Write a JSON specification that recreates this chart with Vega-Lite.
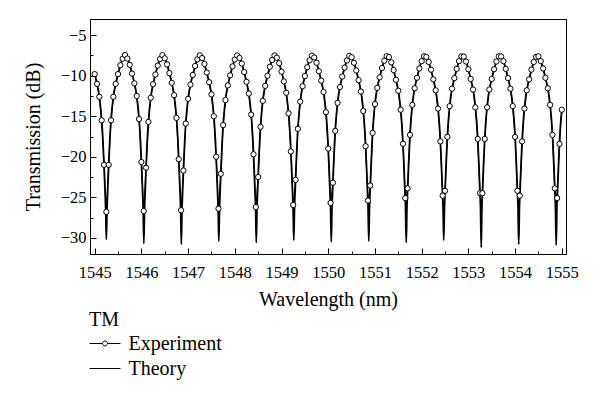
{
  "$schema": "https://vega.github.io/schema/vega-lite/v6.json",
  "width": 476,
  "height": 235,
  "autosize": {"type": "none"},
  "padding": {"left": 90, "top": 19, "right": 34, "bottom": 144},
  "background": "white",
  "datasets": {
    "th": [
      {"x":1545.000,"y":-9.8},{"x":1545.050,"y":-11.0},{"x":1545.100,"y":-12.6},{"x":1545.150,"y":-15.5},{"x":1545.175,"y":-17.8},{"x":1545.200,"y":-21.0},{"x":1545.220,"y":-24.0},{"x":1545.235,"y":-26.3},{"x":1545.250,"y":-30.2},{"x":1545.265,"y":-26.3},{"x":1545.280,"y":-24.0},{"x":1545.300,"y":-21.0},{"x":1545.325,"y":-17.8},{"x":1545.350,"y":-15.5},{"x":1545.400,"y":-12.6},{"x":1545.450,"y":-11.0},{"x":1545.500,"y":-9.8},{"x":1545.550,"y":-8.7},{"x":1545.600,"y":-7.9},{"x":1545.651,"y":-7.45},
      {"x":1545.703,"y":-7.9},{"x":1545.753,"y":-8.7},{"x":1545.803,"y":-9.8},{"x":1545.853,"y":-11.0},{"x":1545.903,"y":-12.6},{"x":1545.953,"y":-15.5},{"x":1545.978,"y":-17.8},{"x":1546.003,"y":-21.0},{"x":1546.023,"y":-24.0},{"x":1546.038,"y":-26.3},{"x":1546.053,"y":-30.7},{"x":1546.068,"y":-26.3},{"x":1546.083,"y":-24.0},{"x":1546.103,"y":-21.0},{"x":1546.128,"y":-17.8},{"x":1546.153,"y":-15.5},{"x":1546.203,"y":-12.6},{"x":1546.253,"y":-11.0},{"x":1546.303,"y":-9.8},{"x":1546.353,"y":-8.7},{"x":1546.403,"y":-7.9},{"x":1546.454,"y":-7.5},
      {"x":1546.505,"y":-7.9},{"x":1546.555,"y":-8.7},{"x":1546.605,"y":-9.8},{"x":1546.655,"y":-11.0},{"x":1546.705,"y":-12.6},{"x":1546.755,"y":-15.5},{"x":1546.780,"y":-17.8},{"x":1546.805,"y":-21.0},{"x":1546.825,"y":-24.0},{"x":1546.840,"y":-26.3},{"x":1546.855,"y":-30.8},{"x":1546.870,"y":-26.3},{"x":1546.885,"y":-24.0},{"x":1546.905,"y":-21.0},{"x":1546.930,"y":-17.8},{"x":1546.955,"y":-15.5},{"x":1547.005,"y":-12.6},{"x":1547.055,"y":-11.0},{"x":1547.105,"y":-9.8},{"x":1547.155,"y":-8.7},{"x":1547.205,"y":-7.9},{"x":1547.256,"y":-7.45},
      {"x":1547.308,"y":-7.9},{"x":1547.358,"y":-8.7},{"x":1547.408,"y":-9.8},{"x":1547.458,"y":-11.0},{"x":1547.508,"y":-12.6},{"x":1547.558,"y":-15.5},{"x":1547.583,"y":-17.8},{"x":1547.608,"y":-21.0},{"x":1547.628,"y":-24.0},{"x":1547.643,"y":-26.3},{"x":1547.658,"y":-30.4},{"x":1547.673,"y":-26.3},{"x":1547.688,"y":-24.0},{"x":1547.708,"y":-21.0},{"x":1547.733,"y":-17.8},{"x":1547.758,"y":-15.5},{"x":1547.808,"y":-12.6},{"x":1547.858,"y":-11.0},{"x":1547.908,"y":-9.8},{"x":1547.958,"y":-8.7},{"x":1548.008,"y":-7.9},{"x":1548.059,"y":-7.45},
      {"x":1548.110,"y":-7.9},{"x":1548.160,"y":-8.7},{"x":1548.210,"y":-9.8},{"x":1548.260,"y":-11.0},{"x":1548.310,"y":-12.6},{"x":1548.360,"y":-15.5},{"x":1548.385,"y":-17.8},{"x":1548.410,"y":-21.0},{"x":1548.430,"y":-24.0},{"x":1548.445,"y":-26.3},{"x":1548.460,"y":-30.6},{"x":1548.475,"y":-26.3},{"x":1548.490,"y":-24.0},{"x":1548.510,"y":-21.0},{"x":1548.535,"y":-17.8},{"x":1548.560,"y":-15.5},{"x":1548.610,"y":-12.6},{"x":1548.660,"y":-11.0},{"x":1548.710,"y":-9.8},{"x":1548.760,"y":-8.7},{"x":1548.810,"y":-7.9},{"x":1548.861,"y":-7.45},
      {"x":1548.913,"y":-7.9},{"x":1548.963,"y":-8.7},{"x":1549.013,"y":-9.8},{"x":1549.063,"y":-11.0},{"x":1549.113,"y":-12.6},{"x":1549.163,"y":-15.5},{"x":1549.188,"y":-17.8},{"x":1549.213,"y":-21.0},{"x":1549.233,"y":-24.0},{"x":1549.248,"y":-26.3},{"x":1549.263,"y":-30.3},{"x":1549.278,"y":-26.3},{"x":1549.293,"y":-24.0},{"x":1549.313,"y":-21.0},{"x":1549.338,"y":-17.8},{"x":1549.363,"y":-15.5},{"x":1549.413,"y":-12.6},{"x":1549.463,"y":-11.0},{"x":1549.513,"y":-9.8},{"x":1549.563,"y":-8.7},{"x":1549.613,"y":-7.9},{"x":1549.664,"y":-7.45},
      {"x":1549.715,"y":-7.9},{"x":1549.765,"y":-8.7},{"x":1549.815,"y":-9.8},{"x":1549.865,"y":-11.0},{"x":1549.915,"y":-12.6},{"x":1549.965,"y":-15.5},{"x":1549.990,"y":-17.8},{"x":1550.015,"y":-21.0},{"x":1550.035,"y":-24.0},{"x":1550.050,"y":-26.3},{"x":1550.065,"y":-30.5},{"x":1550.080,"y":-26.3},{"x":1550.095,"y":-24.0},{"x":1550.115,"y":-21.0},{"x":1550.140,"y":-17.8},{"x":1550.165,"y":-15.5},{"x":1550.215,"y":-12.6},{"x":1550.265,"y":-11.0},{"x":1550.315,"y":-9.8},{"x":1550.365,"y":-8.7},{"x":1550.415,"y":-7.9},{"x":1550.466,"y":-7.4},
      {"x":1550.518,"y":-7.9},{"x":1550.568,"y":-8.7},{"x":1550.618,"y":-9.8},{"x":1550.668,"y":-11.0},{"x":1550.718,"y":-12.6},{"x":1550.768,"y":-15.5},{"x":1550.793,"y":-17.8},{"x":1550.818,"y":-21.0},{"x":1550.838,"y":-24.0},{"x":1550.853,"y":-26.3},{"x":1550.868,"y":-30.4},{"x":1550.883,"y":-26.3},{"x":1550.898,"y":-24.0},{"x":1550.918,"y":-21.0},{"x":1550.943,"y":-17.8},{"x":1550.968,"y":-15.5},{"x":1551.018,"y":-12.6},{"x":1551.068,"y":-11.0},{"x":1551.118,"y":-9.8},{"x":1551.168,"y":-8.7},{"x":1551.218,"y":-7.9},{"x":1551.269,"y":-7.45},
      {"x":1551.320,"y":-7.9},{"x":1551.370,"y":-8.7},{"x":1551.420,"y":-9.8},{"x":1551.470,"y":-11.0},{"x":1551.520,"y":-12.6},{"x":1551.570,"y":-15.5},{"x":1551.595,"y":-17.8},{"x":1551.620,"y":-21.0},{"x":1551.640,"y":-24.0},{"x":1551.655,"y":-26.3},{"x":1551.670,"y":-30.6},{"x":1551.685,"y":-26.3},{"x":1551.700,"y":-24.0},{"x":1551.720,"y":-21.0},{"x":1551.745,"y":-17.8},{"x":1551.770,"y":-15.5},{"x":1551.820,"y":-12.6},{"x":1551.870,"y":-11.0},{"x":1551.920,"y":-9.8},{"x":1551.970,"y":-8.7},{"x":1552.020,"y":-7.9},{"x":1552.071,"y":-7.45},
      {"x":1552.123,"y":-7.9},{"x":1552.173,"y":-8.7},{"x":1552.223,"y":-9.8},{"x":1552.273,"y":-11.0},{"x":1552.323,"y":-12.6},{"x":1552.373,"y":-15.5},{"x":1552.398,"y":-17.8},{"x":1552.423,"y":-21.0},{"x":1552.443,"y":-24.0},{"x":1552.458,"y":-26.3},{"x":1552.473,"y":-30.3},{"x":1552.488,"y":-26.3},{"x":1552.503,"y":-24.0},{"x":1552.523,"y":-21.0},{"x":1552.548,"y":-17.8},{"x":1552.573,"y":-15.5},{"x":1552.623,"y":-12.6},{"x":1552.673,"y":-11.0},{"x":1552.723,"y":-9.8},{"x":1552.773,"y":-8.7},{"x":1552.823,"y":-7.9},{"x":1552.874,"y":-7.45},
      {"x":1552.925,"y":-7.9},{"x":1552.975,"y":-8.7},{"x":1553.025,"y":-9.8},{"x":1553.075,"y":-11.0},{"x":1553.125,"y":-12.6},{"x":1553.175,"y":-15.5},{"x":1553.200,"y":-17.8},{"x":1553.225,"y":-21.0},{"x":1553.245,"y":-24.0},{"x":1553.260,"y":-26.3},{"x":1553.275,"y":-31.2},{"x":1553.290,"y":-26.3},{"x":1553.305,"y":-24.0},{"x":1553.325,"y":-21.0},{"x":1553.350,"y":-17.8},{"x":1553.375,"y":-15.5},{"x":1553.425,"y":-12.6},{"x":1553.475,"y":-11.0},{"x":1553.525,"y":-9.8},{"x":1553.575,"y":-8.7},{"x":1553.625,"y":-7.9},{"x":1553.676,"y":-7.45},
      {"x":1553.728,"y":-7.9},{"x":1553.778,"y":-8.7},{"x":1553.828,"y":-9.8},{"x":1553.878,"y":-11.0},{"x":1553.928,"y":-12.6},{"x":1553.978,"y":-15.5},{"x":1554.003,"y":-17.8},{"x":1554.028,"y":-21.0},{"x":1554.048,"y":-24.0},{"x":1554.063,"y":-26.3},{"x":1554.078,"y":-30.8},{"x":1554.093,"y":-26.3},{"x":1554.108,"y":-24.0},{"x":1554.128,"y":-21.0},{"x":1554.153,"y":-17.8},{"x":1554.178,"y":-15.5},{"x":1554.228,"y":-12.6},{"x":1554.278,"y":-11.0},{"x":1554.328,"y":-9.8},{"x":1554.378,"y":-8.7},{"x":1554.428,"y":-7.9},{"x":1554.479,"y":-7.45},
      {"x":1554.530,"y":-7.9},{"x":1554.580,"y":-8.7},{"x":1554.630,"y":-9.8},{"x":1554.680,"y":-11.0},{"x":1554.730,"y":-12.6},{"x":1554.780,"y":-15.5},{"x":1554.805,"y":-17.8},{"x":1554.830,"y":-21.0},{"x":1554.850,"y":-24.0},{"x":1554.865,"y":-26.3},{"x":1554.880,"y":-30.9},{"x":1554.895,"y":-26.3},{"x":1554.910,"y":-24.0},{"x":1554.930,"y":-21.0},{"x":1554.955,"y":-17.8},{"x":1554.980,"y":-15.5},{"x":1555.000,"y":-14.3}
    ],
    "ex": [
      {"x":1545.00,"y":-9.8},{"x":1545.05,"y":-11.0},{"x":1545.10,"y":-12.6},{"x":1545.15,"y":-15.5},{"x":1545.20,"y":-21.0},{"x":1545.25,"y":-26.8},{"x":1545.30,"y":-21.0},{"x":1545.35,"y":-15.5},{"x":1545.40,"y":-12.6},{"x":1545.45,"y":-11.0},{"x":1545.50,"y":-9.8},{"x":1545.55,"y":-8.7},{"x":1545.60,"y":-7.9},{"x":1545.65,"y":-7.45},
      {"x":1545.70,"y":-7.88},{"x":1545.75,"y":-8.65},{"x":1545.80,"y":-9.74},{"x":1545.85,"y":-10.94},{"x":1545.90,"y":-12.5},{"x":1545.95,"y":-15.35},{"x":1546.00,"y":-20.65},{"x":1546.05,"y":-26.7},{"x":1546.10,"y":-21.35},{"x":1546.15,"y":-15.7},{"x":1546.20,"y":-12.72},{"x":1546.25,"y":-11.05},{"x":1546.30,"y":-9.85},{"x":1546.35,"y":-8.75},{"x":1546.40,"y":-7.94},{"x":1546.45,"y":-7.46},
      {"x":1546.50,"y":-7.85},{"x":1546.55,"y":-8.6},{"x":1546.60,"y":-9.68},{"x":1546.65,"y":-10.88},{"x":1546.70,"y":-12.4},{"x":1546.75,"y":-15.2},{"x":1546.80,"y":-20.3},{"x":1546.85,"y":-26.6},{"x":1546.90,"y":-21.7},{"x":1546.95,"y":-15.9},{"x":1547.00,"y":-12.85},{"x":1547.05,"y":-11.1},{"x":1547.10,"y":-9.9},{"x":1547.15,"y":-8.8},{"x":1547.20,"y":-7.98},{"x":1547.25,"y":-7.48},
      {"x":1547.30,"y":-7.82},{"x":1547.35,"y":-8.55},{"x":1547.40,"y":-9.6},{"x":1547.45,"y":-10.8},{"x":1547.50,"y":-12.3},{"x":1547.55,"y":-15.0},{"x":1547.60,"y":-20.0},{"x":1547.65,"y":-26.4},{"x":1547.70,"y":-22.1},{"x":1547.75,"y":-16.1},{"x":1547.80,"y":-13.0},{"x":1547.85,"y":-11.2},{"x":1547.90,"y":-9.95},{"x":1547.95,"y":-8.85},{"x":1548.00,"y":-8.0},{"x":1548.05,"y":-7.5},
      {"x":1548.10,"y":-7.8},{"x":1548.15,"y":-8.5},{"x":1548.20,"y":-9.55},{"x":1548.25,"y":-10.75},{"x":1548.30,"y":-12.2},{"x":1548.35,"y":-14.8},{"x":1548.40,"y":-19.7},{"x":1548.45,"y":-26.2},{"x":1548.50,"y":-22.5},{"x":1548.55,"y":-16.3},{"x":1548.60,"y":-13.1},{"x":1548.65,"y":-11.25},{"x":1548.70,"y":-10.0},{"x":1548.75,"y":-8.9},{"x":1548.80,"y":-8.05},{"x":1548.85,"y":-7.5},
      {"x":1548.90,"y":-7.78},{"x":1548.95,"y":-8.45},{"x":1549.00,"y":-9.5},{"x":1549.05,"y":-10.7},{"x":1549.10,"y":-12.1},{"x":1549.15,"y":-14.65},{"x":1549.20,"y":-19.35},{"x":1549.25,"y":-25.95},{"x":1549.30,"y":-22.85},{"x":1549.35,"y":-16.55},{"x":1549.40,"y":-13.2},{"x":1549.45,"y":-11.3},{"x":1549.50,"y":-10.05},{"x":1549.55,"y":-8.95},{"x":1549.60,"y":-8.1},{"x":1549.65,"y":-7.52},
      {"x":1549.70,"y":-7.75},{"x":1549.75,"y":-8.4},{"x":1549.80,"y":-9.45},{"x":1549.85,"y":-10.6},{"x":1549.90,"y":-12.0},{"x":1549.95,"y":-14.5},{"x":1550.00,"y":-19.0},{"x":1550.05,"y":-25.7},{"x":1550.10,"y":-23.2},{"x":1550.15,"y":-16.8},{"x":1550.20,"y":-13.35},{"x":1550.25,"y":-11.4},{"x":1550.30,"y":-10.1},{"x":1550.35,"y":-9.0},{"x":1550.40,"y":-8.12},{"x":1550.45,"y":-7.55},
      {"x":1550.50,"y":-7.72},{"x":1550.55,"y":-8.4},{"x":1550.60,"y":-9.35},{"x":1550.65,"y":-10.55},{"x":1550.70,"y":-11.95},{"x":1550.75,"y":-14.35},{"x":1550.80,"y":-18.7},{"x":1550.85,"y":-25.4},{"x":1550.90,"y":-23.55},{"x":1550.95,"y":-17.05},{"x":1551.00,"y":-13.5},{"x":1551.05,"y":-11.5},{"x":1551.10,"y":-10.2},{"x":1551.15,"y":-9.05},{"x":1551.20,"y":-8.15},{"x":1551.25,"y":-7.58},
      {"x":1551.30,"y":-7.7},{"x":1551.35,"y":-8.35},{"x":1551.40,"y":-9.3},{"x":1551.45,"y":-10.5},{"x":1551.50,"y":-11.85},{"x":1551.55,"y":-14.2},{"x":1551.60,"y":-18.4},{"x":1551.65,"y":-25.1},{"x":1551.70,"y":-23.9},{"x":1551.75,"y":-17.3},{"x":1551.80,"y":-13.6},{"x":1551.85,"y":-11.55},{"x":1551.90,"y":-10.25},{"x":1551.95,"y":-9.1},{"x":1552.00,"y":-8.2},{"x":1552.05,"y":-7.6},
      {"x":1552.10,"y":-7.68},{"x":1552.15,"y":-8.3},{"x":1552.20,"y":-9.25},{"x":1552.25,"y":-10.45},{"x":1552.30,"y":-11.8},{"x":1552.35,"y":-14.05},{"x":1552.40,"y":-18.1},{"x":1552.45,"y":-24.8},{"x":1552.50,"y":-24.2},{"x":1552.55,"y":-17.55},{"x":1552.60,"y":-13.75},{"x":1552.65,"y":-11.6},{"x":1552.70,"y":-10.3},{"x":1552.75,"y":-9.15},{"x":1552.80,"y":-8.2},{"x":1552.85,"y":-7.62},
      {"x":1552.90,"y":-7.65},{"x":1552.95,"y":-8.25},{"x":1553.00,"y":-9.2},{"x":1553.05,"y":-10.4},{"x":1553.10,"y":-11.7},{"x":1553.15,"y":-13.9},{"x":1553.20,"y":-17.8},{"x":1553.25,"y":-24.5},{"x":1553.30,"y":-24.5},{"x":1553.35,"y":-17.8},{"x":1553.40,"y":-13.9},{"x":1553.45,"y":-11.7},{"x":1553.50,"y":-10.4},{"x":1553.55,"y":-9.2},{"x":1553.60,"y":-8.25},{"x":1553.65,"y":-7.6},
      {"x":1553.70,"y":-7.62},{"x":1553.75,"y":-8.2},{"x":1553.80,"y":-9.15},{"x":1553.85,"y":-10.3},{"x":1553.90,"y":-11.6},{"x":1553.95,"y":-13.75},{"x":1554.00,"y":-17.55},{"x":1554.05,"y":-24.2},{"x":1554.10,"y":-24.8},{"x":1554.15,"y":-18.1},{"x":1554.20,"y":-14.05},{"x":1554.25,"y":-11.8},{"x":1554.30,"y":-10.45},{"x":1554.35,"y":-9.25},{"x":1554.40,"y":-8.3},{"x":1554.45,"y":-7.68},
      {"x":1554.50,"y":-7.6},{"x":1554.55,"y":-8.2},{"x":1554.60,"y":-9.1},{"x":1554.65,"y":-10.25},{"x":1554.70,"y":-11.55},{"x":1554.75,"y":-13.6},{"x":1554.80,"y":-17.3},{"x":1554.85,"y":-23.9},{"x":1554.90,"y":-25.1},{"x":1554.95,"y":-18.4},{"x":1555.00,"y":-14.2}
    ]
  },
  "encoding": {
    "x": {
      "field": "x", "type": "quantitative",
      "scale": {"domain": [1544.9, 1555.09], "nice": false, "zero": false},
      "axis": {
        "title": "Wavelength (nm)",
        "values": [1545,1545.5,1546,1546.5,1547,1547.5,1548,1548.5,1549,1549.5,1550,1550.5,1551,1551.5,1552,1552.5,1553,1553.5,1554,1554.5,1555],
        "labelExpr": "datum.value % 1 === 0 ? format(datum.value, 'd') : ''",
        "tickSize": {"condition": {"test": "datum.value % 1 !== 0", "value": -3}, "value": -6},
        "labelPadding": 16,
        "titlePadding": 9
      }
    },
    "y": {
      "field": "y", "type": "quantitative",
      "scale": {"domain": [-32, -3], "nice": false, "zero": false},
      "axis": {
        "title": "Transmission (dB)",
        "values": [-30,-27.5,-25,-22.5,-20,-17.5,-15,-12.5,-10,-7.5,-5],
        "labelExpr": "datum.value % 5 === 0 ? format(datum.value, 'd') : ''",
        "tickSize": {"condition": {"test": "datum.value % 5 !== 0", "value": -3}, "value": -6},
        "labelPadding": 10,
        "titlePadding": 17
      }
    }
  },
  "layer": [
    {
      "data": {"name": "th"},
      "mark": {"type": "line", "strokeWidth": 1.8, "interpolate": "monotone"},
      "encoding": {
        "color": {
          "datum": "Theory",
          "scale": {"domain": ["Experiment", "Theory"], "range": ["black", "black"]},
          "legend": {
            "orient": "none", "legendX": -1, "legendY": 291,
            "title": "TM", "titleFontSize": 20, "titleFontWeight": "normal", "titleColor": "black", "titlePadding": 3,
            "labelFontSize": 20, "labelColor": "black",
            "symbolSize": 400, "symbolOffset": 5.5, "labelOffset": 13, "rowPadding": 4,
            "symbolStrokeWidth": 1, "symbolStrokeColor": "black",
            "encode": {
              "symbols": {
                "update": {
                  "shape": {"signal": "datum.value === 'Experiment' ? 'M-1.55,0H-0.25M0.25,0H1.55M-0.25,0A0.25,0.25 0 1,1 0.25,0A0.25,0.25 0 1,1 -0.25,0' : 'M-1.55,0H1.55'"},
                  "fill": {"value": "white"},
                  "stroke": {"value": "black"},
                  "strokeWidth": {"value": 1}
                }
              }
            }
          }
        }
      }
    },
    {
      "data": {"name": "ex"},
      "mark": {"type": "line", "strokeWidth": 0.9},
      "encoding": {"color": {"datum": "Experiment"}}
    },
    {
      "data": {"name": "ex"},
      "mark": {"type": "point", "filled": true, "fill": "white", "stroke": "black", "strokeWidth": 1, "size": 28, "opacity": 1}
    }
  ],
  "config": {
    "font": "Liberation Serif",
    "view": {"stroke": "black", "strokeWidth": 1},
    "axis": {
      "grid": false, "domainColor": "black", "tickColor": "black", "labelColor": "black", "titleColor": "black",
      "labelFontSize": 16.5, "titleFontSize": 20, "titleFontWeight": "normal", "domainWidth": 1, "tickWidth": 1
    }
  }
}
